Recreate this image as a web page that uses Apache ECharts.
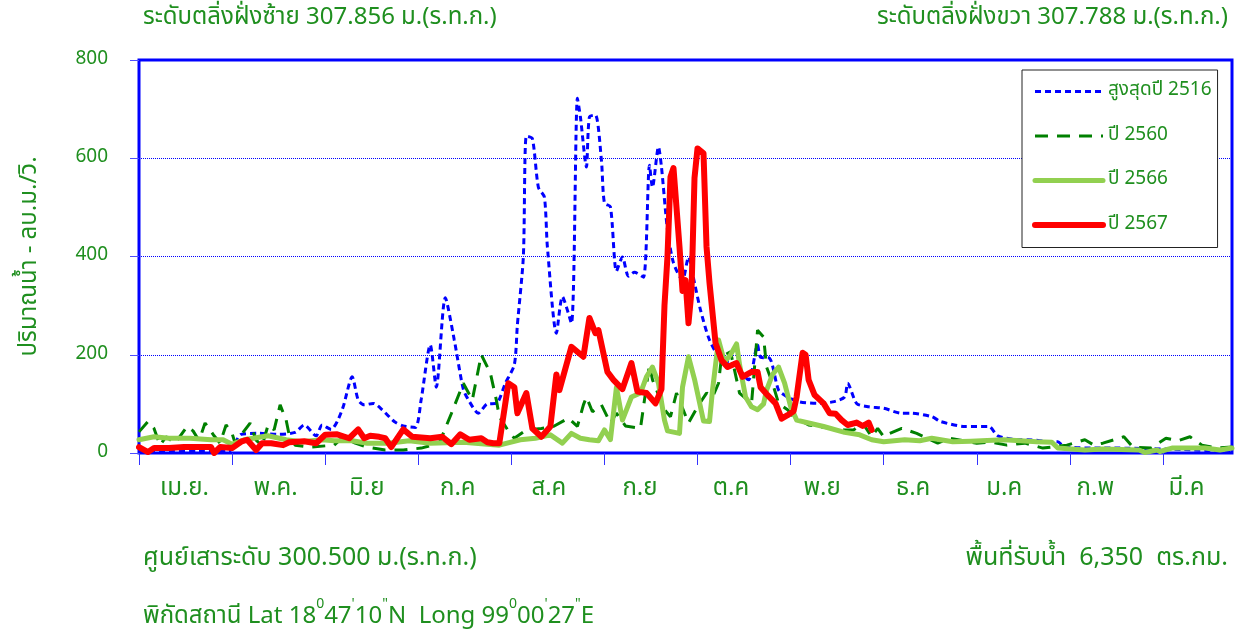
<!DOCTYPE html>
<html><head><meta charset="utf-8">
<script src="https://cdn.jsdelivr.net/npm/echarts@6/dist/echarts.min.js"></script>
<style>html,body{margin:0;padding:0;background:#fff}#c{width:1239px;height:636px}</style>
</head><body><div id="c"></div>
<script>
// Month labels (Thai water year, Apr - Mar)
const monthLabels = ['เม.ย.','พ.ค.','มิ.ย','ก.ค','ส.ค','ก.ย','ต.ค','พ.ย','ธ.ค','ม.ค','ก.พ','มี.ค'];
const monthTickDays = [0,31,62,93,124,155,186,217,248,279,310,341];
const yTicks = [0,200,400,600,800];

// สูงสุดปี 2516
const y2516Days = [0,10,20,30,32,34,40,46,52,55,59,61,64,66,68,71,73,75,78,81,85,88,92,94,97,99,102,105,108,110,113,116,119,122,125,126,128,129,131,133,135,136,139,141,144,146,147,149,150,152,154,155,157,159,161,163,165,168,170,171,173,174,176,178,181,183,185,187,190,194,198,203,206,207,210,213,216,220,226,231,235,236,239,243,248,254,257,264,267,275,283,286,293,296,304,306,308,321,326,348,364];
const y2516Vals = [3,3,3,4,20,38,40,38,42,57,35,57,48,64,94,155,108,98,101,88,64,55,52,110,220,134,316,230,130,105,81,100,101,142,180,260,400,645,640,541,521,420,244,318,264,722,684,582,684,688,596,509,501,370,399,360,368,358,586,541,623,582,454,387,352,399,346,291,230,189,183,149,220,195,193,128,114,104,101,104,114,142,101,94,91,81,81,74,64,54,54,35,27,27,23,23,13,10,10,7,3];

// ปี 2560
const y2560Days = [0,3,5,7,9,12,16,18,20,22,25,27,29,31,32,37,39,41,43,45,47,49,50,52,57,65,68,72,76,82,88,94,100,104,108,111,114,117,119,120,123,125,129,134,138,143,146,148,149,151,154,157,159,162,167,170,171,175,177,179,183,186,189,191,193,194,197,200,204,206,208,209,211,213,216,218,223,226,231,235,238,241,244,246,248,250,254,259,266,270,279,284,289,295,301,309,315,318,321,328,331,337,342,346,350,354,359,364];
const y2560Vals = [43,64,50,16,33,20,54,45,25,61,35,20,57,40,20,61,26,15,57,47,98,67,37,16,12,16,33,20,12,6,6,10,20,80,142,108,200,163,108,74,45,30,47,50,54,71,54,98,114,84,98,61,81,55,50,180,149,88,74,122,61,94,122,114,142,196,206,122,101,250,236,175,142,101,88,74,57,54,50,47,47,61,33,50,33,40,50,40,20,30,20,22,16,20,10,16,27,16,20,33,12,10,30,25,33,16,10,12];

// ปี 2566
const y2566Days = [0,5,10,17,24,28,31,35,43,49,54,61,65,71,76,83,90,97,108,120,127,132,137,141,144,147,150,153,155,157,159,161,164,167,169,171,173,175,176,180,181,183,185,188,190,191,193,195,197,199,200,202,204,206,208,209,211,213,215,217,219,223,228,235,240,244,248,255,260,264,271,277,288,299,304,306,315,321,333,335,339,340,344,355,360,364];
const y2566Vals = [27,33,30,30,27,27,18,27,35,27,23,27,25,25,20,20,25,20,22,16,27,30,37,20,40,30,27,25,47,27,134,67,114,122,155,175,142,67,45,40,134,196,150,65,64,128,230,185,200,222,180,114,94,88,100,128,160,175,142,95,67,61,54,42,37,27,23,27,25,30,23,24,27,23,22,10,6,8,6,1,6,3,10,10,6,10];

// ปี 2567
const y2567Days = [0,3,5,10,15,20,24,25,27,31,34,36,39,41,44,48,50,55,59,62,66,70,73,75,77,80,82,84,88,91,97,101,104,107,110,114,116,118,120,123,125,126,129,131,134,136,137,139,140,144,148,150,152,153,156,158,161,164,166,169,172,174,175,176,177,178,180,181,182,183,184,185,186,188,189,190,192,194,196,199,201,204,206,207,209,212,214,216,218,219,221,222,223,225,228,230,232,234,236,239,241,243,244];
const y2567Vals = [12,2,10,10,12,12,12,0,12,10,23,27,6,20,20,16,22,24,20,37,38,30,48,30,35,33,30,12,48,33,30,33,18,38,27,30,22,20,20,142,134,81,122,50,33,47,54,160,128,216,196,275,244,250,165,149,130,183,125,122,101,130,300,400,562,580,420,330,352,264,330,560,620,610,420,346,224,189,175,183,155,165,165,134,120,101,70,77,85,114,204,200,149,118,101,81,80,67,57,62,55,62,47];

const GREEN = '#1f8f1f';
const FONT = 'Tahoma, "Noto Sans Thai", "Noto Sans", sans-serif';
const pts = (d, v) => d.map((x, i) => [x, v[i]]);

const chart = echarts.init(document.getElementById('c'), null, {renderer: 'canvas'});
chart.setOption({
  animation: false,
  backgroundColor: '#fff',
  textStyle: {fontFamily: FONT},
  grid: {left: 139, right: 7, top: 60, bottom: 183, show: true, borderColor: '#0000ff', borderWidth: 3, backgroundColor: 'transparent'},
  xAxis: [{
    type: 'value', min: 0, max: 364, gridIndex: 0,
    axisLine: {show: false},
    axisTick: {show: true, customValues: monthTickDays, length: 12, lineStyle: {color: '#3333ff', width: 1}},
    axisLabel: {show: false},
    splitLine: {show: false}
  }, {
    type: 'category', gridIndex: 0, position: 'bottom', data: monthLabels, boundaryGap: true,
    axisLine: {show: false}, axisTick: {show: false}, splitLine: {show: false},
    axisLabel: {color: GREEN, fontSize: 24, margin: 25, fontFamily: FONT}
  }],
  yAxis: {
    type: 'value', min: 0, max: 800, interval: 200,
    axisLine: {show: false},
    axisTick: {show: true, length: 9, lineStyle: {color: '#4d4dff', width: 1}},
    axisLabel: {color: GREEN, fontSize: 19, margin: 31, fontFamily: FONT, customValues: yTicks},
    splitLine: {show: true, lineStyle: {color: '#0000ff', type: [1, 1], width: 1}},
    name: 'ปริมาณน้ำ - ลบ.ม./วิ.', nameLocation: 'middle', nameGap: 96,
    nameTextStyle: {color: GREEN, fontSize: 24, fontFamily: FONT}
  },
  legend: {
    orient: 'vertical', left: 1022, top: 70,
    padding: [12, 6, 13, 10], itemGap: 25.5, itemWidth: 68, itemHeight: 20,
    borderColor: '#222', borderWidth: 1, backgroundColor: '#fff',
    textStyle: {color: GREEN, fontSize: 19, fontFamily: FONT},
    itemStyle: {color: 'transparent', borderWidth: 0, opacity: 0},
    lineStyle: {width: 'inherit', type: 'inherit'},
    data: ['สูงสุดปี 2516', 'ปี 2560', 'ปี 2566', 'ปี 2567']
  },
  series: [
    {name: 'สูงสุดปี 2516', type: 'line', xAxisIndex: 0, data: pts(y2516Days, y2516Vals), symbol: 'none', smooth: 0.25,
     lineStyle: {color: '#0000ff', width: 3, type: [6, 4]}, itemStyle: {color: '#0000ff'}},
    {name: 'ปี 2560', type: 'line', xAxisIndex: 0, data: pts(y2560Days, y2560Vals), symbol: 'none',
     lineStyle: {color: '#008000', width: 3, type: [13, 9]}, itemStyle: {color: '#008000'}},
    {name: 'ปี 2566', type: 'line', xAxisIndex: 0, data: pts(y2566Days, y2566Vals), symbol: 'none',
     lineStyle: {color: '#92d050', width: 5, cap: 'round', join: 'round'}, itemStyle: {color: '#92d050'}},
    {name: 'ปี 2567', type: 'line', xAxisIndex: 0, data: pts(y2567Days, y2567Vals), symbol: 'none',
     lineStyle: {color: '#ff0000', width: 6, cap: 'round', join: 'round'}, itemStyle: {color: '#ff0000'}}
  ],
  graphic: [
    {type: 'text', left: 143, top: 7, style: {text: 'ระดับตลิ่งฝั่งซ้าย 307.856 ม.(ร.ท.ก.)', fill: GREEN, font: '24px ' + FONT}},
    {type: 'text', right: 11, top: 7, style: {text: 'ระดับตลิ่งฝั่งขวา 307.788 ม.(ร.ท.ก.)', fill: GREEN, font: '24px ' + FONT}},
    {type: 'text', left: 143, top: 547, style: {text: 'ศูนย์เสาระดับ 300.500 ม.(ร.ท.ก.)', fill: GREEN, font: '25px ' + FONT}},
    {type: 'text', right: 11, top: 547, style: {text: 'พื้นที่รับน้ำ  6,350  ตร.กม.', fill: GREEN, font: '25px ' + FONT}},
    {type: 'text', left: 143, top: 598, style: {
      text: '{a|พิกัดสถานี Lat 18}{s|0}{a|47}{s|\'}{a|10}{s|"}{a|N  Long 99}{s|0}{a|00}{s|\'}{a|27}{s|"}{a|E}',
      rich: {
        a: {fill: GREEN, fontSize: 24, fontFamily: FONT, lineHeight: 32, verticalAlign: 'bottom'},
        s: {fill: GREEN, fontSize: 14, fontFamily: FONT, lineHeight: 32, verticalAlign: 'top'}
      }}}
  ]
});
</script>
</body></html>
